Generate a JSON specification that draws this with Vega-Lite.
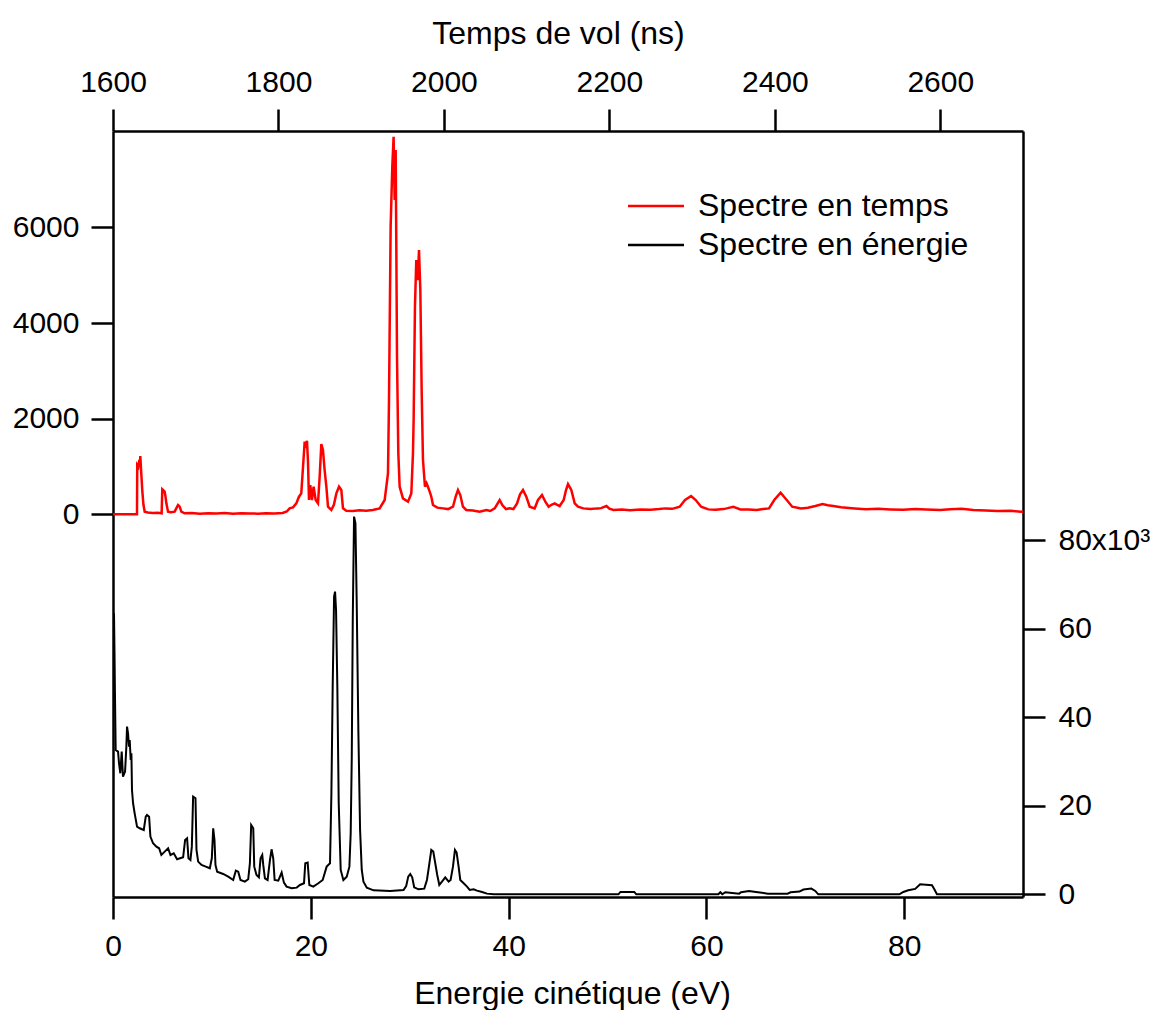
{
  "$schema": "https://vega.github.io/schema/vega-lite/v6.json",
  "width": 910,
  "height": 766,
  "autosize": {"type": "none"},
  "padding": {"left": 113, "top": 131, "right": 138, "bottom": 113},
  "background": "white",
  "config": {
    "view": {"stroke": null},
    "font": "Liberation Sans",
    "axis": {
      "domainColor": "black", "domainWidth": 2.5,
      "tickColor": "black", "tickWidth": 2.5, "tickSize": 22,
      "labelFont": "Liberation Sans", "labelFontSize": 30, "labelColor": "black", "labelPadding": 12,
      "titleFont": "Liberation Sans", "titleFontSize": 32, "titleFontWeight": "normal", "titleColor": "black",
      "grid": false, "labelFlush": false, "labelOverlap": false
    }
  },
  "datasets": {
    "temps": [
      {"t":1600,"v":0},{"t":1629,"v":0},{"t":1629.3,"v":1030},{"t":1630.6,"v":996},{"t":1631.8,"v":1136},{"t":1632.4,"v":1000},{"t":1633,"v":1220},{"t":1634.2,"v":850},{"t":1635.5,"v":474},{"t":1636.8,"v":200},{"t":1638.3,"v":56},{"t":1642,"v":40},{"t":1648,"v":30},{"t":1654,"v":35},{"t":1658.8,"v":21},{"t":1659.6,"v":523},{"t":1661,"v":500},{"t":1662.4,"v":474},{"t":1663.4,"v":380},{"t":1664.5,"v":230},{"t":1666.5,"v":56},{"t":1670,"v":45},{"t":1674.5,"v":56},{"t":1676.5,"v":125},{"t":1678.6,"v":195},{"t":1680.6,"v":160},{"t":1682.6,"v":56},{"t":1686.6,"v":21},{"t":1695,"v":30},{"t":1705,"v":15},{"t":1715,"v":25},{"t":1725,"v":20},{"t":1735,"v":30},{"t":1745,"v":15},{"t":1755,"v":25},{"t":1765,"v":20},{"t":1775,"v":15},{"t":1785,"v":25},{"t":1795,"v":20},{"t":1805,"v":30},{"t":1810,"v":60},{"t":1813.5,"v":125},{"t":1817.6,"v":146},{"t":1821.6,"v":230},{"t":1824.8,"v":369},{"t":1827.6,"v":439},{"t":1829.7,"v":996},{"t":1831.7,"v":1519},{"t":1833.3,"v":1449},{"t":1834.5,"v":1540},{"t":1835.7,"v":1101},{"t":1836.9,"v":300},{"t":1838.5,"v":613},{"t":1840.5,"v":300},{"t":1842.5,"v":578},{"t":1845,"v":300},{"t":1847.8,"v":230},{"t":1849.8,"v":787},{"t":1851.8,"v":1470},{"t":1853.8,"v":1345},{"t":1855.8,"v":927},{"t":1857.9,"v":578},{"t":1859.9,"v":160},{"t":1863.9,"v":91},{"t":1867,"v":200},{"t":1870,"v":439},{"t":1873.2,"v":578},{"t":1876,"v":509},{"t":1878,"v":125},{"t":1882,"v":77},{"t":1890,"v":70},{"t":1898,"v":85},{"t":1906,"v":77},{"t":1914,"v":90},{"t":1922.3,"v":125},{"t":1928.4,"v":300},{"t":1932.4,"v":857},{"t":1933.6,"v":2355},{"t":1935.6,"v":6013},{"t":1937.6,"v":7268},{"t":1939.2,"v":7895},{"t":1940.5,"v":6571},{"t":1941.7,"v":7616},{"t":1942.5,"v":5500},{"t":1943.3,"v":3296},{"t":1944.9,"v":1275},{"t":1946.5,"v":578},{"t":1950.5,"v":334},{"t":1956.6,"v":265},{"t":1960.6,"v":439},{"t":1962.6,"v":1275},{"t":1963.4,"v":1972},{"t":1965,"v":4341},{"t":1966.6,"v":5317},{"t":1968.3,"v":4898},{"t":1969.9,"v":5526},{"t":1971.5,"v":4690},{"t":1973.1,"v":2599},{"t":1974.7,"v":1136},{"t":1977.1,"v":578},{"t":1979,"v":650},{"t":1980.7,"v":578},{"t":1982.8,"v":474},{"t":1984.8,"v":369},{"t":1986.8,"v":195},{"t":1992,"v":140},{"t":1998.9,"v":125},{"t":2005,"v":110},{"t":2011,"v":160},{"t":2014.2,"v":369},{"t":2017,"v":509},{"t":2019.8,"v":404},{"t":2023,"v":160},{"t":2027,"v":91},{"t":2035,"v":80},{"t":2043.2,"v":56},{"t":2051.3,"v":91},{"t":2056,"v":70},{"t":2061.4,"v":125},{"t":2067.4,"v":300},{"t":2070.6,"v":195},{"t":2075,"v":110},{"t":2079.5,"v":125},{"t":2084,"v":110},{"t":2088.4,"v":230},{"t":2092,"v":420},{"t":2095.6,"v":509},{"t":2099.6,"v":369},{"t":2103.7,"v":160},{"t":2109.7,"v":125},{"t":2113.7,"v":300},{"t":2118.6,"v":404},{"t":2122.6,"v":265},{"t":2126.6,"v":160},{"t":2130,"v":200},{"t":2133.9,"v":230},{"t":2137,"v":200},{"t":2139.9,"v":174},{"t":2144.8,"v":300},{"t":2147.5,"v":500},{"t":2150,"v":634},{"t":2154,"v":509},{"t":2158.1,"v":230},{"t":2162.1,"v":160},{"t":2168.5,"v":125},{"t":2177,"v":110},{"t":2185.8,"v":125},{"t":2190,"v":130},{"t":2196.5,"v":174},{"t":2200,"v":120},{"t":2205,"v":90},{"t":2215,"v":100},{"t":2225,"v":85},{"t":2237.5,"v":104},{"t":2250,"v":95},{"t":2260,"v":110},{"t":2267.7,"v":125},{"t":2276,"v":115},{"t":2285,"v":160},{"t":2291.5,"v":300},{"t":2298.8,"v":383},{"t":2304.4,"v":300},{"t":2310.9,"v":160},{"t":2319.6,"v":104},{"t":2328,"v":95},{"t":2338,"v":110},{"t":2343,"v":130},{"t":2349.8,"v":160},{"t":2358.4,"v":104},{"t":2368,"v":100},{"t":2378,"v":90},{"t":2386,"v":110},{"t":2393,"v":125},{"t":2399.3,"v":300},{"t":2407,"v":452},{"t":2414.4,"v":300},{"t":2421,"v":160},{"t":2431.7,"v":125},{"t":2440,"v":140},{"t":2449,"v":174},{"t":2457.7,"v":215},{"t":2464,"v":190},{"t":2470.7,"v":174},{"t":2480,"v":150},{"t":2496.5,"v":125},{"t":2510,"v":105},{"t":2525,"v":115},{"t":2539.7,"v":104},{"t":2555,"v":95},{"t":2570,"v":110},{"t":2582.8,"v":104},{"t":2600,"v":90},{"t":2612,"v":105},{"t":2625.9,"v":118},{"t":2640,"v":90},{"t":2655,"v":80},{"t":2669.2,"v":69},{"t":2685,"v":75},{"t":2697,"v":55},{"t":2700,"v":60}
    ],
    "energie": [
      {"e":0.1,"c":63500},{"e":0.15,"c":55000},{"e":0.2,"c":45000},{"e":0.27,"c":32620},{"e":0.51,"c":32240},{"e":0.61,"c":29600},{"e":0.74,"c":27350},{"e":0.88,"c":32240},{"e":1.01,"c":26590},{"e":1.22,"c":27720},{"e":1.35,"c":33370},{"e":1.42,"c":37890},{"e":1.52,"c":36380},{"e":1.62,"c":33370},{"e":1.69,"c":34880},{"e":1.79,"c":30360},{"e":1.86,"c":31860},{"e":1.92,"c":23580},{"e":2.03,"c":20570},{"e":2.19,"c":18300},{"e":2.43,"c":15290},{"e":2.7,"c":14920},{"e":3.11,"c":14540},{"e":3.31,"c":17550},{"e":3.44,"c":17930},{"e":3.65,"c":17550},{"e":3.78,"c":13030},{"e":4.05,"c":11530},{"e":4.39,"c":10770},{"e":4.66,"c":10400},{"e":4.89,"c":8890},{"e":5.23,"c":9640},{"e":5.57,"c":10400},{"e":5.81,"c":8890},{"e":6.14,"c":9270},{"e":6.48,"c":7910},{"e":7.09,"c":8360},{"e":7.29,"c":12280},{"e":7.49,"c":12660},{"e":7.63,"c":8140},{"e":7.83,"c":7760},{"e":7.97,"c":10770},{"e":8.1,"c":22070},{"e":8.34,"c":21700},{"e":8.44,"c":10020},{"e":8.61,"c":7380},{"e":8.95,"c":6630},{"e":9.38,"c":6250},{"e":9.79,"c":5880},{"e":9.99,"c":8140},{"e":10.13,"c":14920},{"e":10.26,"c":12280},{"e":10.36,"c":6630},{"e":10.53,"c":5120},{"e":11.14,"c":4600},{"e":11.65,"c":3990},{"e":12.15,"c":3240},{"e":12.42,"c":5350},{"e":12.66,"c":5120},{"e":12.89,"c":3240},{"e":13.33,"c":2860},{"e":13.67,"c":3390},{"e":13.84,"c":7010},{"e":13.97,"c":15670},{"e":14.18,"c":14920},{"e":14.28,"c":6250},{"e":14.51,"c":4370},{"e":14.75,"c":3840},{"e":14.92,"c":8140},{"e":15.09,"c":8890},{"e":15.19,"c":6630},{"e":15.36,"c":3620},{"e":15.63,"c":3240},{"e":15.87,"c":7760},{"e":16.03,"c":10170},{"e":16.2,"c":8140},{"e":16.34,"c":3240},{"e":16.71,"c":3090},{"e":17.05,"c":4900},{"e":17.28,"c":2640},{"e":17.55,"c":1730},{"e":18.06,"c":1360},{"e":18.57,"c":1510},{"e":18.9,"c":2110},{"e":19.31,"c":2490},{"e":19.44,"c":7010},{"e":19.68,"c":7160},{"e":19.85,"c":2110},{"e":20.25,"c":1730},{"e":20.76,"c":2490},{"e":21.2,"c":3240},{"e":21.6,"c":6250},{"e":21.94,"c":7010},{"e":22.08,"c":22820},{"e":22.21,"c":46930},{"e":22.35,"c":67270},{"e":22.45,"c":68400},{"e":22.55,"c":64260},{"e":22.68,"c":46930},{"e":22.82,"c":20570},{"e":23.02,"c":5500},{"e":23.29,"c":3240},{"e":23.63,"c":3990},{"e":23.9,"c":6250},{"e":24.03,"c":13790},{"e":24.14,"c":31110},{"e":24.24,"c":62000},{"e":24.37,"c":85350},{"e":24.51,"c":83840},{"e":24.64,"c":65760},{"e":24.81,"c":36380},{"e":24.98,"c":14540},{"e":25.15,"c":5500},{"e":25.32,"c":2860},{"e":25.66,"c":1510},{"e":26.34,"c":900},{"e":28.02,"c":750},{"e":29.37,"c":980},{"e":29.64,"c":1880},{"e":29.85,"c":3990},{"e":30.05,"c":4600},{"e":30.25,"c":3840},{"e":30.45,"c":1580},{"e":30.89,"c":1130},{"e":31.47,"c":1280},{"e":31.74,"c":3240},{"e":31.94,"c":6250},{"e":32.18,"c":10020},{"e":32.38,"c":9640},{"e":32.58,"c":7010},{"e":32.78,"c":4370},{"e":32.99,"c":2110},{"e":33.26,"c":2860},{"e":33.59,"c":3840},{"e":33.93,"c":2860},{"e":34.13,"c":3240},{"e":34.37,"c":6250},{"e":34.57,"c":10020},{"e":34.74,"c":9420},{"e":34.94,"c":6250},{"e":35.11,"c":3240},{"e":35.45,"c":2490},{"e":35.79,"c":1730},{"e":36.06,"c":980},{"e":36.46,"c":1130},{"e":36.8,"c":830},{"e":37.31,"c":530},{"e":37.81,"c":150},{"e":38.5,"c":0},{"e":51.1,"c":0},{"e":51.3,"c":530},{"e":52.7,"c":530},{"e":52.9,"c":0},{"e":61.2,"c":0},{"e":61.4,"c":460},{"e":61.6,"c":0},{"e":61.9,"c":460},{"e":63.3,"c":150},{"e":63.5,"c":460},{"e":64.3,"c":760},{"e":65,"c":530},{"e":66.2,"c":150},{"e":68.2,"c":150},{"e":68.5,"c":460},{"e":69.4,"c":610},{"e":69.8,"c":1070},{"e":70.6,"c":1300},{"e":71,"c":760},{"e":71.3,"c":0},{"e":79.5,"c":0},{"e":79.9,"c":530},{"e":80.4,"c":920},{"e":81.1,"c":1220},{"e":81.6,"c":2290},{"e":82.8,"c":2060},{"e":83.05,"c":1070},{"e":83.3,"c":0},{"e":92,"c":0}
    ]
  },
  "layer": [
    {
      "data": {"name": "temps"},
      "mark": {"type": "line", "strokeWidth": 2.5, "clip": true},
      "encoding": {
        "x": {
          "field": "t", "type": "quantitative",
          "scale": {"domain": [1600, 2700], "nice": false, "zero": false},
          "axis": {"orient": "top", "title": "Temps de vol (ns)", "values": [1600, 1800, 2000, 2200, 2400, 2600], "format": "d", "titleBaseline": "alphabetic", "titleY": -88, "titleX": 445}
        },
        "y": {
          "field": "v", "type": "quantitative",
          "scale": {"domain": [-8000, 8015], "nice": false, "zero": false},
          "axis": {"orient": "left", "title": null, "values": [0, 2000, 4000, 6000], "format": "d"}
        },
        "color": {
          "datum": "Spectre en temps", "type": "nominal",
          "scale": {"domain": ["Spectre en temps", "Spectre en énergie"], "range": ["#ff0000", "#000000"]},
          "legend": {
            "orient": "none", "legendX": 527, "legendY": 59, "title": null,
            "symbolType": "M-2,0L2,0", "symbolSize": 784, "symbolStrokeWidth": 2.5,
            "labelFontSize": 32, "labelFont": "Liberation Sans", "labelColor": "black", "labelLimit": 0,
            "labelOffset": 26, "rowPadding": 7, "padding": 0
          }
        }
      }
    },
    {
      "data": {"name": "energie"},
      "mark": {"type": "line", "strokeWidth": 2, "clip": true},
      "encoding": {
        "x": {
          "field": "e", "type": "quantitative",
          "scale": {"domain": [0, 92], "nice": false, "zero": false},
          "axis": {"orient": "bottom", "title": "Energie cinétique (eV)", "values": [0, 20, 40, 60, 80], "format": "d", "titleBaseline": "alphabetic", "titleY": 106, "titleX": 459}
        },
        "y": {
          "field": "c", "type": "quantitative",
          "scale": {"domain": [-610, 172500], "nice": false, "zero": false},
          "axis": {"orient": "right", "title": null, "values": [0, 20000, 40000, 60000, 80000], "labelPadding": 13,
            "labelExpr": "datum.value == 80000 ? '80x10³' : format(datum.value / 1000, 'd')"}
        },
        "color": {"datum": "Spectre en énergie", "type": "nominal"}
      }
    }
  ],
  "resolve": {
    "scale": {"x": "independent", "y": "independent"},
    "axis": {"x": "independent", "y": "independent"}
  }
}
